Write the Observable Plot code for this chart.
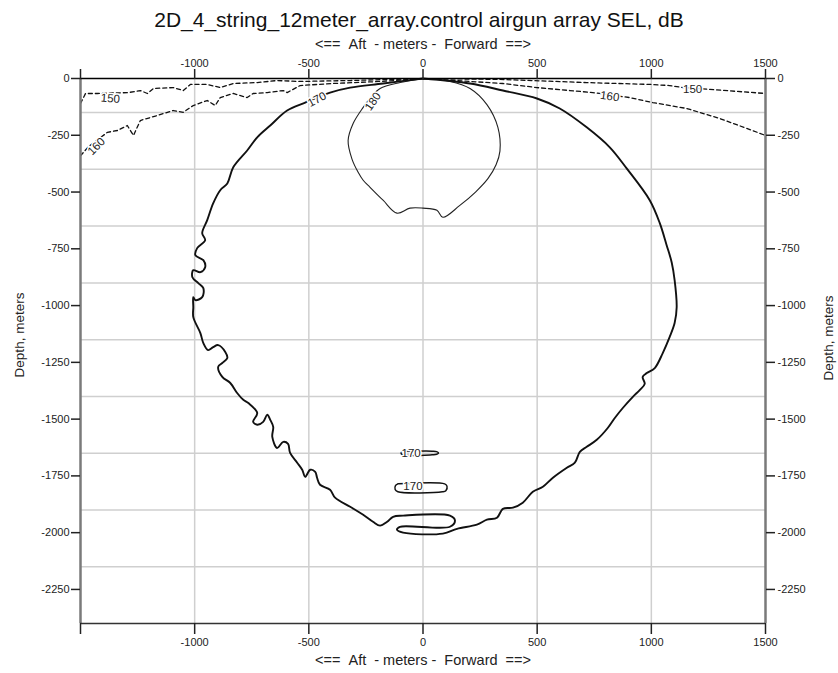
<!DOCTYPE html>
<html><head><meta charset="utf-8">
<script src="https://cdn.jsdelivr.net/npm/d3@7"></script>
<script src="https://cdn.jsdelivr.net/npm/@observablehq/plot@0.6"></script>
<style>
body{margin:0;background:#fff;font-family:"Liberation Sans",Arial,sans-serif;}
#title{height:34px;line-height:40px;text-align:center;font-size:21px;color:#111;white-space:nowrap;}
</style></head><body>
<div id="title">2D_4_string_12meter_array.control airgun array SEL, dB</div>
<div id="chart"></div>
<script>
// ---- data (x = along-track meters, y = depth meters) ----
const xTicks = [-1500, -1000, -500, 0, 500, 1000, 1500];
const yTicks = [0, -250, -500, -750, -1000, -1250, -1500, -1750, -2000, -2250];
const gridX = [-1000, -500, 0, 500, 1000];
const gridY = [-150, -400, -650, -900, -1150, -1400, -1650, -1900, -2150];
const xLabel = "<==\u00a0\u00a0Aft\u00a0\u00a0-\u00a0meters\u00a0-\u00a0\u00a0Forward\u00a0\u00a0==>";
const yLabel = "Depth, meters";

const c150Left = [[-1500,-110],[-1478,-66],[-1426,-66],[-1290,-62],[-1238,-53],[-1207,-66],[-1181,-44],[-1094,-40],[-1050,-53],[-1019,-26],[-945,-26],[-888,-40],[-831,-22],[-726,-18],[-639,-9],[-538,-13],[-319,-9],[0,0]];
const c150Right = [[0,0],[337,-4],[717,-18],[993,-26],[1080,-31],[1140,-40],[1255,-48],[1500,-66]];
const c160Left = [[-1500,-340],[-1465,-300],[-1382,-237],[-1338,-229],[-1295,-207],[-1268,-251],[-1238,-185],[-1164,-163],[-1094,-141],[-1050,-149],[-1006,-119],[-945,-97],[-910,-119],[-888,-84],[-831,-66],[-770,-84],[-744,-66],[-682,-62],[-612,-53],[-595,-62],[-538,-31],[-394,-22],[-188,-13],[0,0]];
const c160Right = [[0,0],[350,-22],[499,-40],[643,-53],[744,-62],[905,-84],[1006,-106],[1155,-132],[1299,-176],[1443,-229],[1500,-251]];
const c170Main = [[0,0],[-175,-22],[-319,-40],[-407,-62],[-516,-106],[-595,-141],[-669,-207],[-726,-259],[-770,-317],[-831,-391],[-857,-462],[-888,-492],[-919,-550],[-945,-624],[-967,-681],[-954,-712],[-989,-747],[-997,-778],[-962,-800],[-954,-831],[-975,-853],[-1006,-844],[-1010,-875],[-984,-901],[-962,-923],[-967,-963],[-997,-976],[-1006,-963],[-1006,-1007],[-1006,-1051],[-975,-1121],[-962,-1165],[-941,-1196],[-919,-1183],[-897,-1174],[-866,-1204],[-857,-1231],[-879,-1253],[-897,-1270],[-879,-1314],[-844,-1341],[-814,-1385],[-787,-1415],[-765,-1429],[-726,-1473],[-744,-1512],[-726,-1525],[-700,-1512],[-682,-1481],[-669,-1503],[-656,-1534],[-660,-1578],[-639,-1627],[-612,-1600],[-591,-1609],[-582,-1649],[-551,-1692],[-529,-1723],[-516,-1754],[-494,-1723],[-472,-1732],[-464,-1758],[-451,-1789],[-407,-1811],[-385,-1846],[-319,-1886],[-262,-1921],[-219,-1952],[-188,-1969],[-157,-1952],[-131,-1930],[-87,-1925],[118,-1925],[140,-1947],[118,-1974],[-101,-1974],[-114,-1987],[-87,-2000],[87,-2004],[149,-1983],[236,-1965],[280,-1943],[324,-1934],[350,-1895],[394,-1890],[437,-1868],[481,-1820],[525,-1798],[569,-1758],[630,-1714],[665,-1692],[687,-1644],[717,-1622],[761,-1591],[809,-1539],[840,-1495],[875,-1451],[919,-1402],[949,-1372],[971,-1345],[962,-1314],[980,-1297],[1015,-1275],[1050,-1209],[1080,-1139],[1102,-1077],[1111,-1007],[1102,-888],[1089,-809],[1067,-734],[1037,-637],[993,-536],[892,-396],[818,-303],[717,-215],[599,-132],[499,-88],[350,-53],[206,-22],[0,0]];
const c170LoopA = [[-90,-1642],[40,-1641],[60,-1643],[68,-1649],[60,-1655],[40,-1657],[-90,-1657],[-96,-1650],[-90,-1642]];
const c170LoopB = [[-110,-1785],[95,-1785],[105,-1795],[100,-1815],[85,-1820],[-110,-1820],[-122,-1810],[-120,-1792],[-110,-1785]];
const c180 = [[0,0],[-100,-18],[-188,-44],[-230,-85],[-262,-127],[-306,-198],[-328,-273],[-311,-355],[-284,-413],[-262,-448],[-232,-479],[-175,-536],[-114,-593],[-57,-571],[0,-571],[61,-580],[87,-611],[160,-560],[230,-500],[285,-440],[320,-380],[337,-320],[328,-215],[280,-115],[206,-44],[118,-13],[0,0]];

const labelText = ["150", "160", "170", "180", "150", "160", "170", "170"];
const labelX = [-1369, -1430, -464, -219, 1181, 818, -52, -44];
const labelY = [-88, -299, -92, -101, -48, -79, -1649, -1798];
const labelAngle = [4, -45, -28, -55, 0, 8, 0, 0];

// ---- build tables ----
const toRows = (id, pts) => pts.map(([x, y]) => ({id, x, y}));
const dashed = [...toRows("150L", c150Left), ...toRows("150R", c150Right), ...toRows("160L", c160Left), ...toRows("160R", c160Right)];
const main170 = toRows("170", c170Main);
const loops170 = [...toRows("A", c170LoopA), ...toRows("B", c170LoopB)];
const thin180 = toRows("180", c180);
const labels = labelText.map((t, i) => ({t, x: labelX[i], y: labelY[i], r: labelAngle[i]}));
const fmtX = d => d === -1500 ? "" : String(d);
const fmtY = d => String(d);

const plot = Plot.plot({
  width: 838, height: 639,
  marginTop: 44, marginBottom: 50, marginLeft: 80, marginRight: 73,
  x: {domain: [-1500, 1500]},
  y: {domain: [-2400, 0]},
  style: {fontFamily: "'Liberation Sans', Arial, sans-serif", fontSize: "11px", color: "#222", background: "#fff", overflow: "visible"},
  marks: [
    Plot.ruleX(gridX, {stroke: "#cfcfcf", strokeWidth: 1.5}),
    Plot.ruleY(gridY, {stroke: "#cfcfcf", strokeWidth: 1.5}),
    Plot.line(dashed, {x: "x", y: "y", z: "id", stroke: "#111", strokeWidth: 1.3, strokeDasharray: "4,3", clip: true}),
    Plot.line(thin180, {x: "x", y: "y", z: "id", stroke: "#222", strokeWidth: 1.1, curve: "catmull-rom"}),
    Plot.line(main170, {x: "x", y: "y", z: "id", stroke: "#111", strokeWidth: 1.9, curve: "catmull-rom"}),
    Plot.line(loops170, {x: "x", y: "y", z: "id", stroke: "#111", strokeWidth: 1.5, curve: "catmull-rom"}),
    Plot.text(labels, {x: "x", y: "y", text: "t", rotate: "r", fontSize: 11.5, fill: "#222", stroke: "white", strokeWidth: 3}),
    Plot.ruleX([-1500, 1500], {stroke: "#7a7a7a", strokeWidth: 2.5}),
    Plot.ruleY([-2400], {stroke: "#333", strokeWidth: 1.6}),
    Plot.ruleY([0], {stroke: "#000", strokeWidth: 1.6}),
    Plot.axisX({anchor: "top", ticks: xTicks, tickFormat: fmtX, tickSize: 10, tickPadding: 2, strokeWidth: 1.5, label: null}),
    Plot.axisX({anchor: "bottom", ticks: xTicks, tickFormat: fmtX, tickSize: 11, tickPadding: 4, strokeWidth: 1.5, label: null}),
    Plot.axisY({anchor: "left", ticks: yTicks, tickFormat: fmtY, tickSize: 9, tickPadding: 2, strokeWidth: 1.5, label: null}),
    Plot.axisY({anchor: "right", ticks: yTicks, tickFormat: fmtY, tickSize: 9, tickPadding: 3, strokeWidth: 1.5, label: null}),
    Plot.text([xLabel], {frameAnchor: "top", dy: -34, lineAnchor: "middle", textAnchor: "middle", fontSize: 14.5, fill: "#222"}),
    Plot.text([xLabel], {frameAnchor: "bottom", dy: 37, lineAnchor: "middle", textAnchor: "middle", fontSize: 14.5, fill: "#222"}),
    Plot.text([yLabel], {frameAnchor: "left", dx: -61, dy: -16, rotate: -90, lineAnchor: "middle", textAnchor: "middle", fontSize: 13.5, fill: "#222"}),
    Plot.text([yLabel], {frameAnchor: "right", dx: 63, dy: -13, rotate: -90, lineAnchor: "middle", textAnchor: "middle", fontSize: 13.5, fill: "#222"})
  ]
});
document.getElementById("chart").appendChild(plot);
</script></body></html>
